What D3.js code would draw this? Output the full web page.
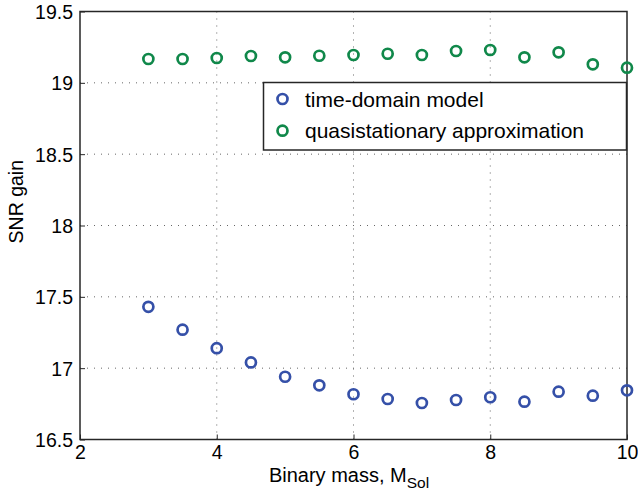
<!DOCTYPE html>
<html>
<head>
<meta charset="utf-8">
<script src="https://cdn.jsdelivr.net/npm/d3@7"></script>
<style>
  body { margin: 0; background: #fff; }
  text { font-family: "Liberation Sans", Arial, Helvetica, sans-serif; }
</style>
</head>
<body>
<div id="chart"></div>
<script>
// binary mass values (M_Sol)
var mass = [3, 3.5, 4, 4.5, 5, 5.5, 6, 6.5, 7, 7.5, 8, 8.5, 9, 9.5, 10];
// SNR gain, time-domain model
var timeDomain = [17.43, 17.27, 17.14, 17.04, 16.94, 16.88, 16.817, 16.784, 16.756, 16.777, 16.796, 16.765, 16.835, 16.807, 16.845];
// SNR gain, quasistationary approximation
var quasiStat = [19.167, 19.167, 19.174, 19.188, 19.179, 19.19, 19.195, 19.204, 19.195, 19.223, 19.23, 19.179, 19.214, 19.13, 19.106];

var xTicks = [2, 4, 6, 8, 10];
var yTicks = [16.5, 17, 17.5, 18, 18.5, 19, 19.5];
var seriesNames = ["time-domain model", "quasistationary approximation"];
var colors = ["#3550a8", "#10884a"];

var margin = {top: 11.5, right: 11, bottom: 58.5, left: 80},
    W = 638, H = 498,
    width = W - margin.left - margin.right,
    height = H - margin.top - margin.bottom;

var x = d3.scaleLinear().domain([2, 10]).range([0, width]);
var y = d3.scaleLinear().domain([16.5, 19.5]).range([height, 0]);

var svg = d3.select("#chart").append("svg")
    .attr("width", W)
    .attr("height", H)
  .append("g")
    .attr("transform", "translate(" + margin.left + "," + margin.top + ")");

// dotted grid
svg.append("g").selectAll("line.gx")
  .data(xTicks.slice(1, -1))
  .enter().append("line")
    .attr("x1", d => x(d)).attr("x2", d => x(d))
    .attr("y1", 0).attr("y2", height)
    .attr("stroke", "#666").attr("stroke-width", 1)
    .attr("stroke-dasharray", "1,6");

svg.append("g").selectAll("line.gy")
  .data(yTicks.slice(1, -1))
  .enter().append("line")
    .attr("y1", d => y(d)).attr("y2", d => y(d))
    .attr("x1", 0).attr("x2", width)
    .attr("stroke", "#666").attr("stroke-width", 1)
    .attr("stroke-dasharray", "1,6");

// axes, ticks pointing inward
var xAxis = svg.append("g")
    .attr("transform", "translate(0," + height + ")")
    .call(d3.axisBottom(x).tickValues(xTicks).tickSizeInner(-5).tickSizeOuter(0).tickPadding(5.5).tickFormat(d3.format("d")));
var yAxis = svg.append("g")
    .call(d3.axisLeft(y).tickValues(yTicks).tickSizeInner(-5).tickSizeOuter(0).tickPadding(7).tickFormat(d => String(d)));

[xAxis, yAxis].forEach(function(a) {
  a.select(".domain").remove();
  a.selectAll("line").attr("stroke", "#262626");
  a.selectAll("text").attr("font-size", 19.5).attr("fill", "#000")
    .style("font-family", '"Liberation Sans", Arial, sans-serif');
});
yAxis.selectAll("text").attr("dy", "0.36em");
xAxis.selectAll("text").attr("dy", "0.71em");

// box
svg.append("rect")
    .attr("width", width).attr("height", height)
    .attr("fill", "none").attr("stroke", "#262626").attr("stroke-width", 1.5);

// series
var series = [timeDomain, quasiStat];
series.forEach(function(vals, i) {
  svg.append("g").selectAll("circle")
    .data(mass.map((m, j) => [m, vals[j]]))
    .enter().append("circle")
      .attr("cx", d => x(d[0]))
      .attr("cy", d => y(d[1]))
      .attr("r", 5)
      .attr("fill", "none")
      .attr("stroke", colors[i])
      .attr("stroke-width", 2.7);
});

// legend
var lg = svg.append("g").attr("transform", "translate(" + (263.5 - margin.left) + "," + (82.5 - margin.top) + ")");
lg.append("rect")
    .attr("width", 363).attr("height", 67.5)
    .attr("fill", "#fff").attr("stroke", "#262626").attr("stroke-width", 1.5);
seriesNames.forEach(function(name, i) {
  lg.append("circle")
    .attr("cx", 19).attr("cy", 16.5 + i * 31.7).attr("r", 5)
    .attr("fill", "none").attr("stroke", colors[i]).attr("stroke-width", 2.7);
  lg.append("text")
    .attr("x", 41.5).attr("y", 16.5 + i * 31.7).attr("dy", "0.36em")
    .attr("font-size", 21).attr("fill", "#000")
    .text(name);
});

// axis titles
var xt = svg.append("text")
    .attr("x", 349 - margin.left).attr("y", 482 - margin.top)
    .attr("text-anchor", "middle").attr("font-size", 20).attr("fill", "#000");
xt.append("tspan").text("Binary mass, M");
xt.append("tspan").attr("dy", 6).attr("font-size", 15.5).text("Sol");

svg.append("text")
    .attr("transform", "translate(" + (23 - margin.left) + "," + (201.7 - margin.top) + ") rotate(-90)")
    .attr("text-anchor", "middle").attr("font-size", 19.5).attr("fill", "#000")
    .text("SNR gain");
</script>
</body>
</html>
